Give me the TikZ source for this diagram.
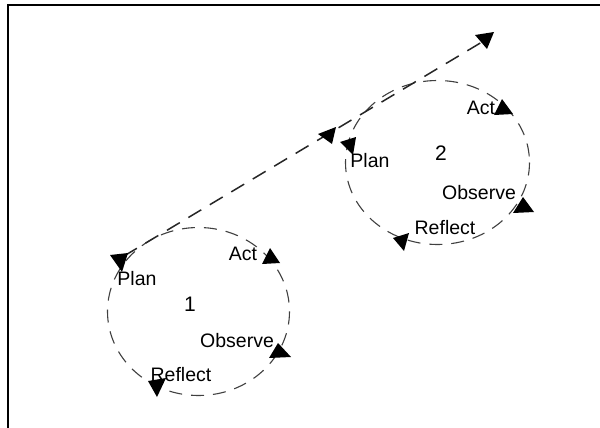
\documentclass[tikz,border=0pt]{standalone}
\usepackage{fontspec}
\setmainfont{Liberation Sans}
\begin{document}
\begin{tikzpicture}[x=1pt,y=-1pt,
  cyclering/.style={draw=black!75,line width=1.1pt,dash pattern=on 13pt off 9pt},
  trendline/.style={draw=black!85,line width=1.5pt,dash pattern=on 15pt off 10pt},
  tip/.style={fill=black},
  lbl/.style={inner sep=0pt,font=\fontsize{19.5}{21}\selectfont},
  num/.style={inner sep=0pt,font=\fontsize{21}{23}\selectfont}]
\useasboundingbox (0,0) rectangle (600,428);
\fill[white] (0,0) rectangle (600,428);
% frame (top and left edges)
\draw[line width=1.8pt] (8,428) -- (8,5.3) -- (600,5.3);

% the two cycles
\draw[cyclering] (198.5,311.5) ellipse [x radius=91, y radius=84];
\draw[cyclering] (437.5,162.5) ellipse [x radius=92, y radius=82];

% trend line linking the cycles
\coordinate (start) at (124,256);
\coordinate (finish) at (482,42);
\draw[trendline] (start) -- (finish);

% arrow heads, cycle 1
\fill[tip] (110,255) -- (128,253) -- (122,272) -- cycle;
\fill[tip] (270,248) -- (262,264) -- (280,263) -- cycle;
\fill[tip] (278,343) -- (269,358) -- (291,357) -- cycle;
\fill[tip] (148,381) -- (166,378) -- (157,397) -- cycle;
% arrow heads, trend line
\fill[tip] (318,134) -- (336,127) -- (332,144) -- cycle;
\fill[tip] (475,35) -- (494,32) -- (487,49) -- cycle;
% arrow heads, cycle 2
\fill[tip] (340,142) -- (356,137) -- (353,155) -- cycle;
\fill[tip] (502,99) -- (494,115) -- (513,114) -- cycle;
\fill[tip] (523,197) -- (513,213) -- (534,212) -- cycle;
\fill[tip] (393,238) -- (409,233) -- (404,251) -- cycle;

% labels, cycle 1
\node[lbl] (plan1) at (137,279) {Plan};
\node[lbl] (act1) at (243,254) {Act};
\node[num] (n1) at (190,304) {1};
\node[lbl] (obs1) at (237,341) {Observe};
\node[lbl] (ref1) at (181,375) {Reflect};
% labels, cycle 2
\node[lbl] (plan2) at (370,161) {Plan};
\node[num] (n2) at (441,153) {2};
\node[lbl] (act2) at (481,108) {Act};
\node[lbl] (obs2) at (479,193) {Observe};
\node[lbl] (ref2) at (445,228) {Reflect};
\end{tikzpicture}
\end{document}
